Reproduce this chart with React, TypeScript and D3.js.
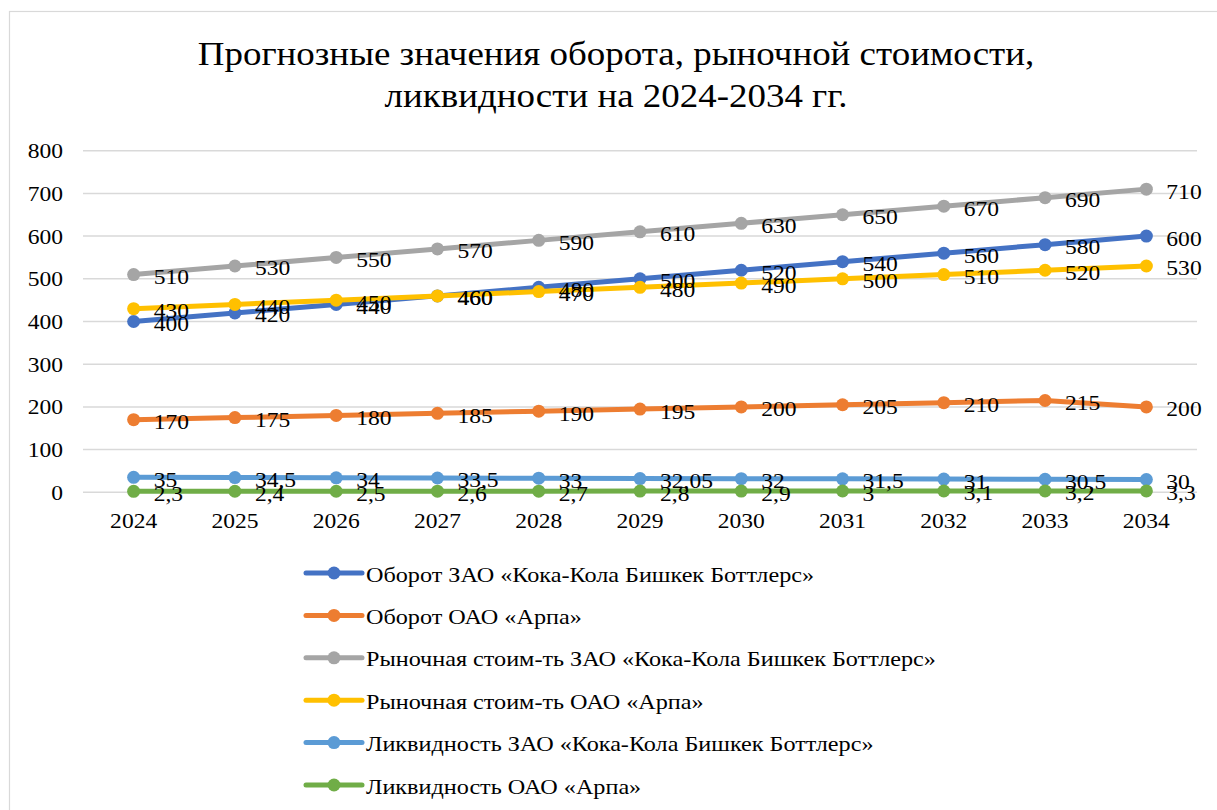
import React from "react";
import * as d3 from "d3";

const years = ["2024","2025","2026","2027","2028","2029","2030","2031","2032","2033","2034"];
const turnoverCoca = [400,420,440,460,480,500,520,540,560,580,600];
const turnoverArpa = [170,175,180,185,190,195,200,205,210,215,200];
const marketCoca = [510,530,550,570,590,610,630,650,670,690,710];
const marketArpa = [430,440,450,460,470,480,490,500,510,520,530];
const liqCoca = [35,34.5,34,33.5,33,32.05,32,31.5,31,30.5,30];
const liqArpa = [2.3,2.4,2.5,2.6,2.7,2.8,2.9,3,3.1,3.2,3.3];
const yTicks = [0,100,200,300,400,500,600,700,800];

const seriesNames = [
  "Оборот ЗАО «Кока-Кола Бишкек Боттлерс»",
  "Оборот ОАО «Арпа»",
  "Рыночная стоим-ть ЗАО «Кока-Кола Бишкек Боттлерс»",
  "Рыночная стоим-ть ОАО «Арпа»",
  "Ликвидность ЗАО «Кока-Кола Бишкек Боттлерс»",
  "Ликвидность ОАО «Арпа»",
];
const seriesValues = [turnoverCoca, turnoverArpa, marketCoca, marketArpa, liqCoca, liqArpa];
const colors = ["#4472C4","#ED7D31","#A5A5A5","#FFC000","#5B9BD5","#70AD47"];

const font = "Liberation Serif";

const fmt = (v: number) => String(v).replace(".", ",");

function T({ x, y, sx = 1, anchor = "start", size, children }: any) {
  return (
    <text
      transform={`translate(${x},${y}) scale(${sx},1)`}
      textAnchor={anchor}
      fontSize={size}
      fill="#000"
      style={{ fontFamily: font }}
    >
      {children}
    </text>
  );
}

export default function App() {
  const W = 1217, H = 810;
  const x = d3.scaleBand<string>().domain(years).range([83, 1197]);
  const cx = (yr: string) => (x(yr) as number) + x.bandwidth() / 2;
  const y = d3.scaleLinear().domain([0, 800]).range([492.3, 150.7]);
  const line = d3.line<number>().x((_, i) => cx(years[i])).y((v) => y(v));
  const dsx = 1.07;

  return (
    <svg width={W} height={H} style={{ position: "absolute", left: 0, top: 0, background: "#fff" }}>
      <rect x={0} y={0} width={W} height={H} fill="#fff" />
      <rect x={9.5} y={11.5} width={1230} height={830} fill="#fff" stroke="#d9d9d9" strokeWidth={1.2} />
      <T x={616} y={65} anchor="middle" size={33} sx={1.12}>Прогнозные значения оборота, рыночной стоимости,</T>
      <T x={616} y={107} anchor="middle" size={33} sx={1.12}>ликвидности на 2024-2034 гг.</T>
      {yTicks.map((t) => (
        <g key={t}>
          <line x1={83} x2={1197} y1={y(t)} y2={y(t)} stroke="#d9d9d9" strokeWidth={1.5} />
          <T x={63} y={y(t) + 7.5} anchor="end" size={22} sx={dsx}>{t}</T>
        </g>
      ))}
      {years.map((yr) => (
        <T key={yr} x={cx(yr)} y={528} anchor="middle" size={22} sx={dsx}>{yr}</T>
      ))}
      {seriesValues.map((vals, si) => (
        <g key={si}>
          <path d={line(vals) as string} fill="none" stroke={colors[si]} strokeWidth={5} strokeLinejoin="round" strokeLinecap="round" />
          {vals.map((v, i) => (
            <circle key={i} cx={cx(years[i])} cy={y(v)} r={6.5} fill={colors[si]} />
          ))}
        </g>
      ))}
      {seriesValues.map((vals, si) => (
        <g key={"l" + si}>
          {vals.map((v, i) => (
            <T key={i} x={cx(years[i]) + 20} y={y(v) + 9.5} size={22} sx={dsx}>{fmt(v)}</T>
          ))}
        </g>
      ))}
      {seriesNames.map((name, si) => {
        const ry = 573 + si * 42.4;
        return (
          <g key={"lg" + si}>
            <line x1={306} x2={362} y1={ry} y2={ry} stroke={colors[si]} strokeWidth={5} strokeLinecap="round" />
            <circle cx={334} cy={ry} r={6.5} fill={colors[si]} />
            <T x={366} y={ry + 8.5} size={22} sx={1.1}>{name}</T>
          </g>
        );
      })}
    </svg>
  );
}
